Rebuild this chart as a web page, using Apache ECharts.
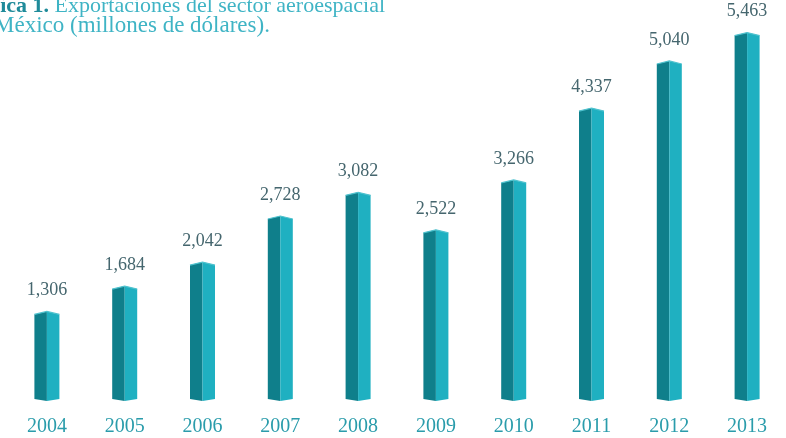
<!DOCTYPE html>
<html>
<head>
<meta charset="utf-8">
<script src="https://cdn.jsdelivr.net/npm/echarts@6/dist/echarts.min.js"></script>
<style>
  html, body { margin: 0; padding: 0; background: #ffffff; }
  #chart { width: 786px; height: 438px; }
</style>
</head>
<body>
<div id="chart"></div>
<script>
// Exportaciones del sector aeroespacial de México, millones de dólares
const years = ['2004', '2005', '2006', '2007', '2008', '2009', '2010', '2011', '2012', '2013'];
const exportsMUSD = [1306, 1684, 2042, 2728, 3082, 2522, 3266, 4337, 5040, 5463];

const chart = echarts.init(document.getElementById('chart'), null, { renderer: 'canvas' });

const fmt = v => v.toLocaleString('en-US');
const serif = '"Liberation Serif", "DejaVu Serif", serif';

// Prism-shaped column: dark left face, light right face, small ridge on top
function renderPrism(params, api) {
  const idx = api.value(0);
  const val = api.value(1);
  const top = api.coord([idx, val]);
  const base = api.coord([idx, 0]);
  const half = 12.5;
  const cx = top[0];
  const x0 = cx - half, x1 = cx + half;
  const yT = top[1], yB = base[1];
  return {
    type: 'group',
    children: [
      {
        type: 'polygon',
        shape: { points: [[x0, yT + 3], [cx, yT], [cx, yB + 2], [x0, yB]] },
        style: { fill: '#0f7f8b' }
      },
      {
        type: 'polygon',
        shape: { points: [[cx, yT], [x1, yT + 3], [x1, yB], [cx, yB + 2]] },
        style: { fill: '#1fb0c1' }
      },
      {
        type: 'polyline',
        shape: { points: [[x0, yT + 3], [cx, yT], [x1, yT + 3]] },
        style: { stroke: '#4fc2ce', lineWidth: 1.2, fill: null }
      },
      {
        type: 'text',
        x: cx,
        y: yT - 12,
        style: {
          text: fmt(val),
          fill: '#45666e',
          font: '18px ' + serif,
          align: 'center',
          verticalAlign: 'bottom'
        }
      }
    ]
  };
}

chart.setOption({
  backgroundColor: '#ffffff',
  animation: false,
  grid: { left: 8, width: 783, top: 10, bottom: 39 },
  xAxis: {
    type: 'category',
    data: years,
    axisLine: { show: false },
    axisTick: { show: false },
    axisLabel: {
      color: '#2a9cab',
      fontFamily: serif,
      fontSize: 20,
      margin: 18
    }
  },
  yAxis: {
    type: 'value',
    min: 0,
    max: 5800,
    show: false,
    splitLine: { show: false }
  },
  graphic: [
    {
      type: 'text',
      left: -45,
      top: -5,
      style: {
        text: '{b|Gráfica 1.} Exportaciones del sector aeroespacial',
        fill: '#3fb4c5',
        font: '22px ' + serif,
        rich: {
          b: { fill: '#1f8b9a', fontWeight: 'bold', fontSize: 22, fontFamily: serif }
        }
      }
    },
    {
      type: 'text',
      left: -6,
      top: 14,
      style: {
        text: 'México (millones de dólares).',
        fill: '#3fb4c5',
        font: '23px ' + serif
      }
    }
  ],
  series: [
    {
      type: 'custom',
      renderItem: renderPrism,
      encode: { x: 0, y: 1 },
      data: exportsMUSD.map((v, i) => [i, v])
    }
  ]
});
</script>
</body>
</html>
